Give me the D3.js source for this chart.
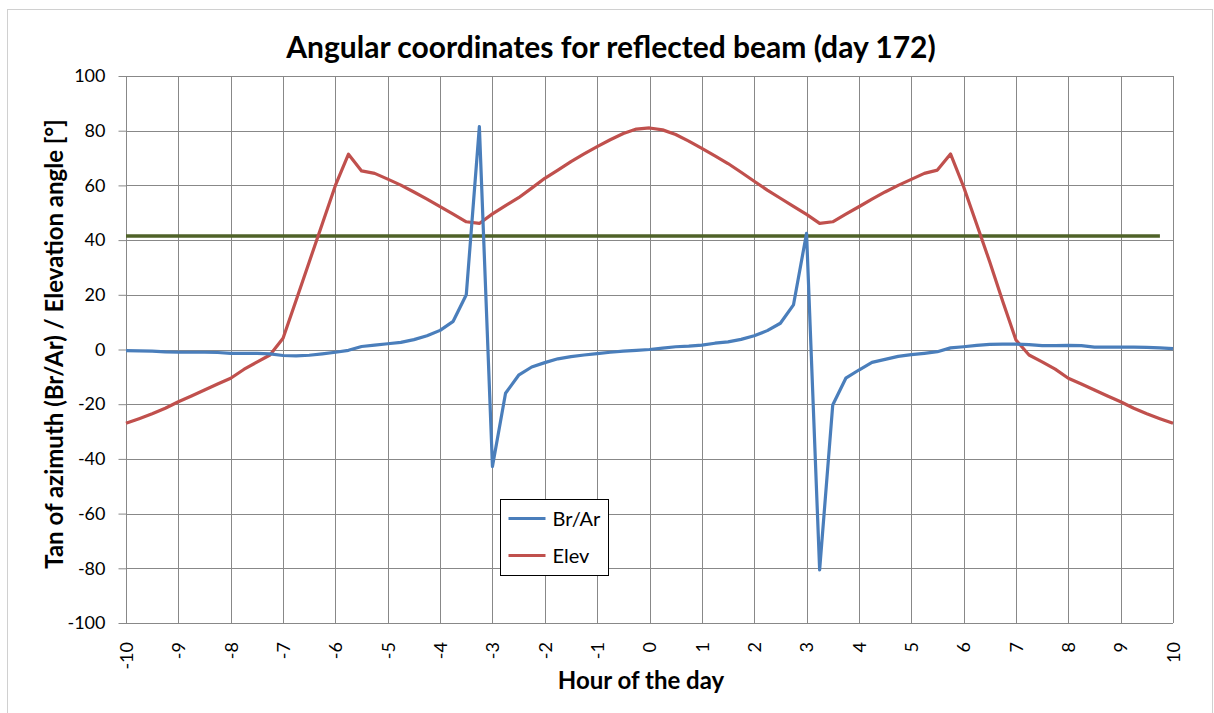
<!DOCTYPE html>
<html>
<head>
<meta charset="utf-8">
<script src="https://cdn.jsdelivr.net/npm/d3@7"></script>
<style>
  body { margin: 0; background: #fff; }
  text { font-family: Lato, "Open Sans", sans-serif; fill: #000; }
</style>
</head>
<body>
<div id="chart"></div>
<script>
// hours of the day (every 15 min)
const hours = [-10,-9.75,-9.5,-9.25,-9,-8.75,-8.5,-8.25,-8,-7.75,-7.5,-7.25,-7,-6.75,-6.5,-6.25,
  -6,-5.75,-5.5,-5.25,-5,-4.75,-4.5,-4.25,-4,-3.75,-3.5,-3.25,-3,-2.75,-2.5,-2.25,
  -2,-1.75,-1.5,-1.25,-1,-0.75,-0.5,-0.25,0,0.25,0.5,0.75,1,1.25,1.5,1.75,
  2,2.25,2.5,2.75,3,3.25,3.5,3.75,4,4.25,4.5,4.75,5,5.25,5.5,5.75,
  6,6.25,6.5,6.75,7,7.25,7.5,7.75,8,8.25,8.5,8.75,9,9.25,9.5,9.75,10];

// tan of azimuth
const brAr = [-0.4,-0.5,-0.6,-0.9,-1.0,-1.0,-1.0,-1.1,-1.4,-1.4,-1.4,-1.6,-2.2,-2.3,-2.1,-1.6,
  -1.0,-0.3,1.1,1.6,2.1,2.6,3.6,5.0,7.0,10.3,20.0,81.5,-42.8,-16.0,-9.4,-6.4,
  -4.8,-3.4,-2.6,-2.0,-1.5,-1.0,-0.6,-0.3,0.0,0.5,1.0,1.2,1.6,2.3,2.8,3.7,
  5.0,6.9,9.6,16.3,42.5,-80.6,-20.3,-10.5,-7.5,-4.7,-3.6,-2.5,-1.9,-1.4,-0.8,0.6,
  1.0,1.5,1.9,2.0,2.0,1.8,1.4,1.4,1.5,1.4,0.9,0.9,0.9,0.9,0.8,0.6,0.3];

// elevation angle
const elev = [-27,-25.3,-23.5,-21.5,-19.1,-17,-14.8,-12.6,-10.5,-7.3,-4.6,-2,4.1,18,32,46,
  60,71.4,65.3,64.4,62.3,60.1,57.6,55,52.2,49.5,46.7,46.1,49.6,52.6,55.5,59,
  62.6,65.6,68.7,71.5,74.2,76.7,79,80.6,81,80.3,78.6,76.2,73.5,70.8,68,64.8,
  61.5,58.3,55.3,52.3,49.4,46.1,46.7,49.5,52.2,55,57.6,60,62.2,64.4,65.6,71.5,
  59.5,45.8,32,17.5,3.5,-2,-4.5,-7.2,-10.5,-12.6,-14.8,-17,-19.1,-21.5,-23.5,-25.3,-27];

// limit line
const limitHours = [-10, 9.75];
const limitValue = [41.5, 41.5];

const xTicks = [-10,-9,-8,-7,-6,-5,-4,-3,-2,-1,0,1,2,3,4,5,6,7,8,9,10];
const yTicks = [-100,-80,-60,-40,-20,0,20,40,60,80,100];

const width = 1214, height = 713;
const margin = {top: 76, left: 126, right: 41, bottom: 90};

const x = d3.scaleLinear().domain([-10, 10]).range([margin.left, width - margin.right]);
const y = d3.scaleLinear().domain([-100, 100]).range([height - margin.bottom, margin.top]);

const svg = d3.select("#chart").append("svg")
  .attr("width", width).attr("height", height);

// chart border
svg.append("rect")
  .attr("x", 7.5).attr("y", 9.5)
  .attr("width", 1205).attr("height", 720)
  .attr("fill", "none").attr("stroke", "#d0d0d0");

// gridlines
const grid = svg.append("g").attr("stroke", "#888").attr("stroke-width", 1);
grid.selectAll(".gx").data(xTicks).enter().append("line")
  .attr("x1", d => Math.round(x(d)) + 0.5).attr("x2", d => Math.round(x(d)) + 0.5)
  .attr("y1", y(100)).attr("y2", y(-100));
grid.selectAll(".gy").data(yTicks).enter().append("line")
  .attr("y1", d => Math.round(y(d)) + 0.5).attr("y2", d => Math.round(y(d)) + 0.5)
  .attr("x1", x(-10)).attr("x2", x(10));

// y axis
const yAxis = svg.append("g")
  .attr("transform", `translate(${Math.round(x(-10)) + 0.5},0)`)
  .call(d3.axisLeft(y).tickValues(yTicks).tickSize(8).tickPadding(13).tickFormat(d => String(d)));
yAxis.select(".domain").remove();
yAxis.selectAll("line").attr("stroke", "#888");
yAxis.selectAll("text").style("font-size", "18px").attr("font-family", null);

// x axis labels, rotated
const xAxis = svg.append("g")
  .attr("transform", `translate(0,${y(-100)})`)
  .call(d3.axisBottom(x).tickValues(xTicks).tickSize(0).tickFormat(d => String(d)));
xAxis.select(".domain").remove();
xAxis.selectAll("text")
  .style("font-size", "18px")
  .attr("font-family", null)
  .attr("text-anchor", "end")
  .attr("transform", "rotate(-90)")
  .attr("x", -19).attr("y", 0).attr("dy", "0.35em");

// series
const line = d3.line().x(d => x(d[0])).y(d => y(d[1]));

svg.append("path")
  .datum(limitHours.map((h, i) => [h, limitValue[i]]))
  .attr("d", line).attr("fill", "none")
  .attr("stroke", "#4f6228").attr("stroke-width", 3.5);

svg.append("path")
  .datum(hours.map((h, i) => [h, elev[i]]))
  .attr("d", line).attr("fill", "none")
  .attr("stroke", "#c0504d").attr("stroke-width", 3.2).attr("stroke-linejoin", "round");

svg.append("path")
  .datum(hours.map((h, i) => [h, brAr[i]]))
  .attr("d", line).attr("fill", "none")
  .attr("stroke", "#4a7ebb").attr("stroke-width", 3.2).attr("stroke-linejoin", "round");

// title
svg.append("text")
  .attr("x", 611).attr("y", 58)
  .attr("text-anchor", "middle")
  .style("font-size", "30px").style("font-weight", "bold")
  .text("Angular coordinates for reflected beam (day 172)");

// axis titles
svg.append("text")
  .attr("x", 641).attr("y", 689)
  .attr("text-anchor", "middle")
  .style("font-size", "24px").style("font-weight", "bold")
  .text("Hour of the day");

svg.append("text")
  .attr("transform", "translate(63,344) rotate(-90)")
  .attr("text-anchor", "middle")
  .style("font-size", "24px").style("font-weight", "bold")
  .text("Tan of azimuth (Br/Ar) / Elevation angle [°]");

// legend
const legendItems = [
  {name: "Br/Ar", color: "#4a7ebb"},
  {name: "Elev", color: "#c0504d"}
];
const legend = svg.append("g").attr("transform", "translate(500.5,499.5)");
legend.append("rect")
  .attr("width", 108).attr("height", 76)
  .attr("fill", "#fff").attr("stroke", "#000").attr("stroke-width", 1);
const li = legend.selectAll(".li").data(legendItems).enter().append("g")
  .attr("transform", (d, i) => `translate(0,${19 + i * 37})`);
li.append("line")
  .attr("x1", 8).attr("x2", 45)
  .attr("stroke", d => d.color).attr("stroke-width", 3.2);
li.append("text")
  .attr("x", 52).attr("dy", "0.35em")
  .style("font-size", "20px")
  .text(d => d.name);
</script>
</body>
</html>
